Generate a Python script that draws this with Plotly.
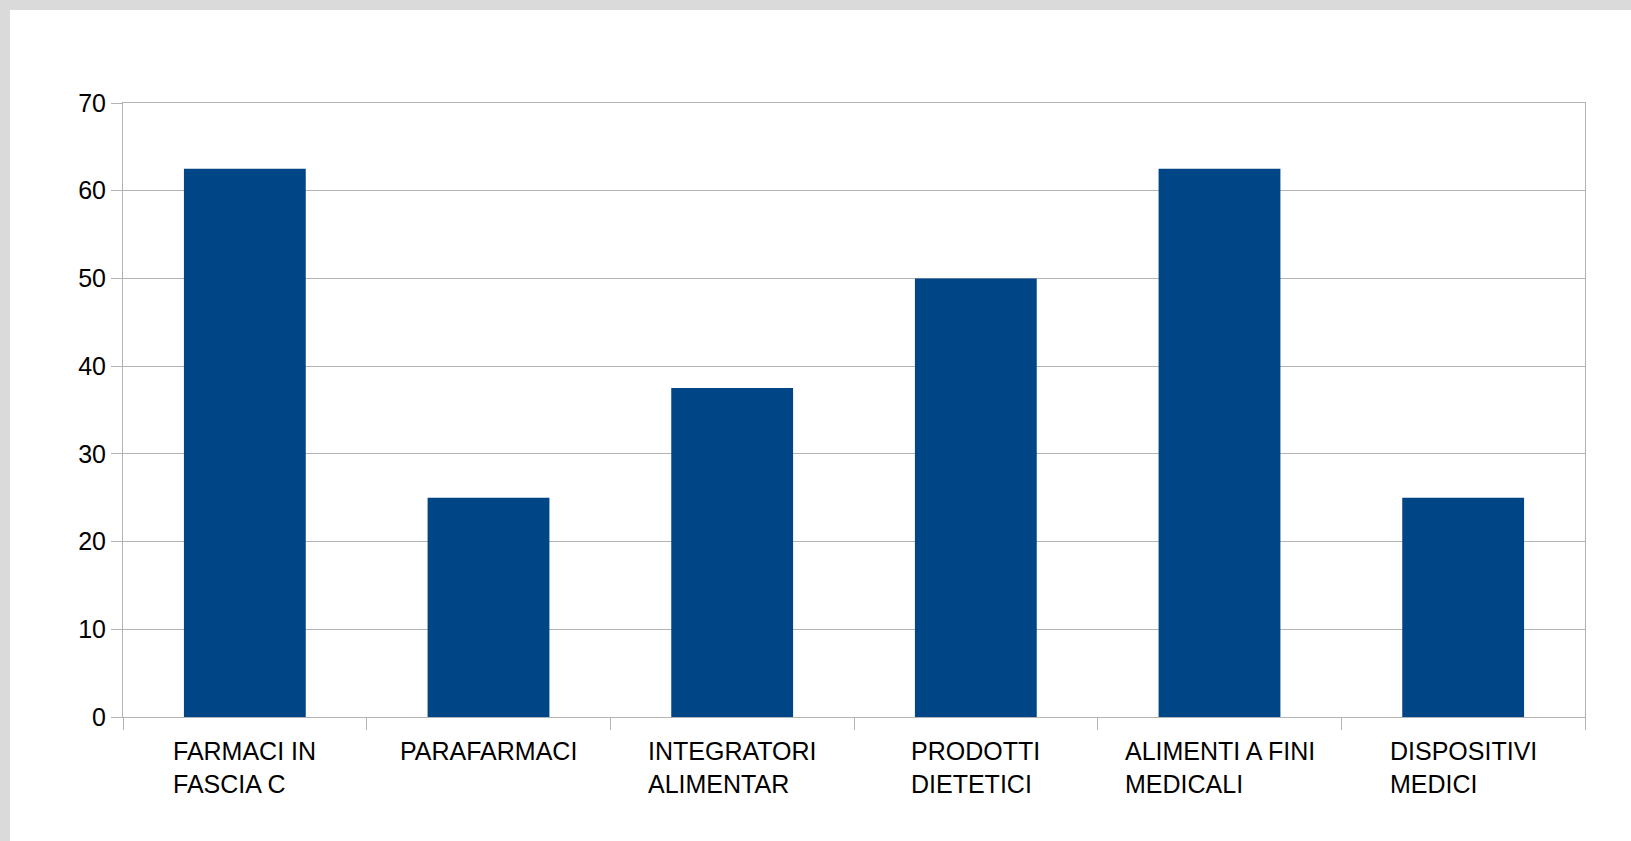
import plotly.graph_objects as go

# Categories (line breaks as shown under each bar) and percentages
categories = [
    "FARMACI IN<br>FASCIA C",
    "PARAFARMACI",
    "INTEGRATORI<br>ALIMENTAR",
    "PRODOTTI<br>DIETETICI",
    "ALIMENTI A FINI<br>MEDICALI",
    "DISPOSITIVI<br>MEDICI",
]
values = [62.5, 25, 37.5, 50, 62.5, 25]
y_ticks = [0, 10, 20, 30, 40, 50, 60, 70]

W, H = 1631, 841
ML, MR, MT, MB = 123, 46, 103, 124
PW, PH = W - ML - MR, H - MT - MB

BAR = "#004586"
GRID = "#b3b3b3"
FONT = "Liberation Sans, Arial, sans-serif"

fig = go.Figure(
    go.Bar(
        x=categories,
        y=values,
        marker=dict(color=BAR, line=dict(width=0)),
        width=0.5,
    )
)


def px_to_paper_x(px):
    return (px - ML) / PW


def px_to_paper_y(py):
    return (H - MB - py) / PH


# light grey frame strips along the top and left edges of the page
shapes = [
    dict(type="rect", xref="paper", yref="paper",
         x0=px_to_paper_x(0), x1=px_to_paper_x(W),
         y0=px_to_paper_y(10), y1=px_to_paper_y(0),
         fillcolor="#dadada", line=dict(width=0), layer="below"),
    dict(type="rect", xref="paper", yref="paper",
         x0=px_to_paper_x(0), x1=px_to_paper_x(10),
         y0=px_to_paper_y(H), y1=px_to_paper_y(0),
         fillcolor="#dadada", line=dict(width=0), layer="below"),
]

annotations = [
    dict(x=c, y=0, xref="x", yref="paper", text=c, showarrow=False,
         xanchor="center", yanchor="top", align="left", yshift=-18,
         font=dict(family=FONT, size=25, color="#000000"))
    for c in categories
]

fig.update_layout(
    width=W, height=H,
    margin=dict(l=ML, r=MR, t=MT, b=MB, pad=0),
    paper_bgcolor="#ffffff",
    plot_bgcolor="#ffffff",
    showlegend=False,
    bargap=0.5,
    shapes=shapes,
    annotations=annotations,
    font=dict(family=FONT, size=25, color="#000000"),
)

fig.update_xaxes(
    type="category",
    showticklabels=False,
    showgrid=False,
    showline=True, linecolor=GRID, linewidth=1, mirror=True,
    ticks="outside", tickson="boundaries", ticklen=12, tickcolor=GRID,
    zeroline=False,
)
fig.update_yaxes(
    range=[0, 70],
    tickvals=y_ticks,
    ticktext=[str(v) for v in y_ticks],
    showgrid=True, gridcolor=GRID, gridwidth=1,
    showline=True, linecolor=GRID, linewidth=1, mirror=True,
    ticks="outside", ticklen=11, tickcolor=GRID,
    tickfont=dict(family=FONT, size=25, color="#000000"),
    zeroline=False,
)

fig.write_html("out.html")
